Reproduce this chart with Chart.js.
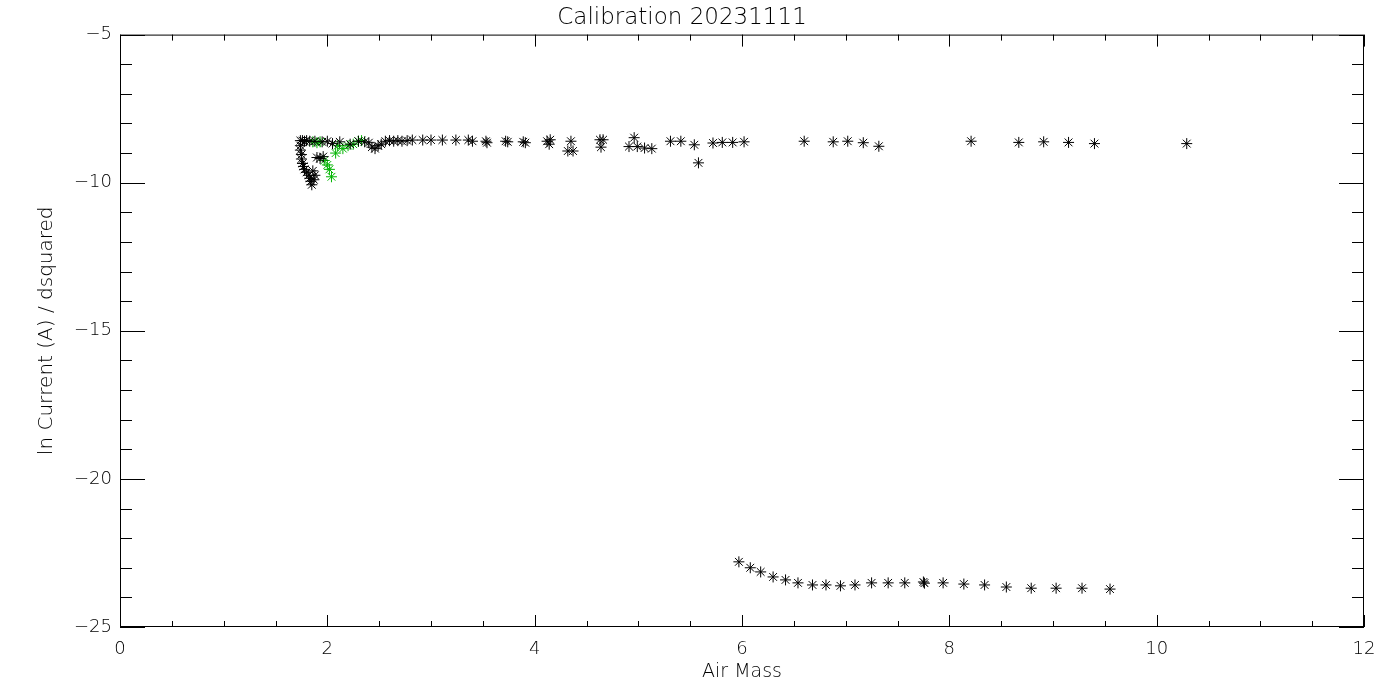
<!DOCTYPE html>
<html>
<head>
<meta charset="utf-8">
<title>Calibration 20231111</title>
<script src="https://cdn.jsdelivr.net/npm/chart.js@4.4.1/dist/chart.umd.min.js"></script>
<style>
    html, body { margin: 0; padding: 0; background: #fff; }
    #calib-chart { display: block; }
</style>
</head>
<body>
<canvas id="calib-chart" width="1400" height="700"></canvas>
<script>
const FONT = '"DejaVu Sans", "Liberation Sans", sans-serif';

// upper branch, black
const airMassBlack = [
    1.74, 1.76, 1.78, 1.80, 1.83, 1.74, 1.74, 1.75, 1.75, 1.76, 1.77, 1.78,
    1.80, 1.82, 1.83, 1.84, 1.85, 1.87, 1.88, 1.86, 1.90, 1.93, 1.96,
    1.88, 1.95, 2.00, 2.05, 2.12, 2.22, 2.30, 2.36, 2.40, 2.43, 2.46, 2.49,
    2.52, 2.56, 2.60, 2.64, 2.68, 2.72, 2.77, 2.82, 2.92, 3.00, 3.11, 3.24, 3.36,
    3.40, 3.53, 3.54, 3.72, 3.74, 3.89, 3.91, 4.12, 4.14, 4.15, 4.35, 4.32, 4.37,
    4.63, 4.66, 4.64, 4.96, 4.91, 4.99, 5.06, 5.13, 5.31, 5.41, 5.54, 5.58,
    5.72, 5.81, 5.91, 6.02, 6.60, 6.88, 7.02, 7.17, 7.32, 8.21, 8.67, 8.91,
    9.15, 9.40, 10.29
];
const lnCurrentBlack = [
    -8.58, -8.58, -8.60, -8.58, -8.60, -8.75, -8.90, -9.05, -9.20, -9.35, -9.45, -9.55,
    -9.65, -9.75, -9.85, -9.95, -10.07, -9.90, -9.75, -9.60, -9.15, -9.18, -9.12,
    -8.60, -8.62, -8.60, -8.68, -8.62, -8.70, -8.60, -8.62, -8.65, -8.80, -8.85, -8.75,
    -8.70, -8.60, -8.58, -8.60, -8.58, -8.60, -8.58, -8.56, -8.56, -8.56, -8.56, -8.56, -8.56,
    -8.60, -8.60, -8.65, -8.60, -8.62, -8.62, -8.65, -8.60, -8.70, -8.55, -8.60, -8.93, -8.93,
    -8.55, -8.55, -8.80, -8.48, -8.78, -8.78, -8.83, -8.85, -8.60, -8.60, -8.72, -9.33,
    -8.66, -8.64, -8.64, -8.62, -8.60, -8.62, -8.60, -8.65, -8.77, -8.60, -8.64, -8.62,
    -8.64, -8.68, -8.68
];

// lower branch, black
const airMassLow = [
    5.97, 6.08, 6.18, 6.30, 6.42, 6.54, 6.68, 6.81, 6.95, 7.09, 7.25, 7.41,
    7.57, 7.75, 7.76, 7.94, 8.14, 8.34, 8.55, 8.79, 9.03, 9.28, 9.55
];
const lnCurrentLow = [
    -22.80, -23.00, -23.14, -23.31, -23.41, -23.51, -23.58, -23.58, -23.61, -23.58, -23.51, -23.51,
    -23.51, -23.48, -23.52, -23.51, -23.55, -23.58, -23.65, -23.69, -23.69, -23.69, -23.72
];

// green series
const airMassGreen = [1.86, 1.90, 1.93, 1.97, 2.00, 2.02, 2.04, 2.08, 2.10, 2.15, 2.20, 2.25, 2.30, 2.33];
const lnCurrentGreen = [-8.62, -8.65, -8.62, -9.25, -9.40, -9.55, -9.80, -9.00, -8.75, -8.85, -8.75, -8.70, -8.60, -8.58];

const xTicks = [0, 2, 4, 6, 8, 10, 12];
const yTicks = [-25, -20, -15, -10, -5];

function toPoints(xs, ys) {
    return xs.map((x, i) => ({ x: x, y: ys[i] }));
}

function starSet(label, data, color) {
    return {
        label: label,
        data: data,
        showLine: false,
        pointStyle: 'star',
        pointRadius: 5.5,
        pointBorderWidth: 1,
        borderColor: color,
        backgroundColor: color,
    };
}

// IDL style frame: box plus inward ticks on all four sides
const framePlugin = {
    id: 'frame',
    afterDraw(chart) {
        const { ctx, chartArea: a, scales: { x, y } } = chart;
        ctx.save();
        ctx.strokeStyle = '#000';
        ctx.lineWidth = 1;
        ctx.strokeRect(a.left + 0.5, a.top + 0.5, a.right - a.left - 1, a.bottom - a.top - 1);
        ctx.beginPath();
        for (let v = 0; v <= 12; v += 0.5) {
            const px = Math.round(x.getPixelForValue(v)) + 0.5;
            const len = v % 2 === 0 ? 12 : 6;
            ctx.moveTo(px, a.bottom); ctx.lineTo(px, a.bottom - len);
            ctx.moveTo(px, a.top); ctx.lineTo(px, a.top + len);
        }
        for (let v = -25; v <= -5; v += 1) {
            const py = Math.round(y.getPixelForValue(v)) + 0.5;
            const len = v % 5 === 0 ? 25 : 12;
            ctx.moveTo(a.left, py); ctx.lineTo(a.left + len, py);
            ctx.moveTo(a.right, py); ctx.lineTo(a.right - len, py);
        }
        ctx.stroke();
        ctx.restore();
    }
};

const ctx = document.getElementById('calib-chart');
new Chart(ctx, {
    type: 'scatter',
    data: {
        datasets: [
            starSet('upper', toPoints(airMassBlack, lnCurrentBlack), '#000000'),
            starSet('lower', toPoints(airMassLow, lnCurrentLow), '#000000'),
            starSet('green', toPoints(airMassGreen, lnCurrentGreen), '#00b400'),
        ],
    },
    options: {
        responsive: false,
        animation: false,
        layout: { padding: { left: 0, right: 36, top: 0, bottom: 0 } },
        plugins: {
            legend: { display: false },
            tooltip: { enabled: false },
            title: {
                display: true,
                text: 'Calibration 20231111',
                color: '#000',
                font: { family: FONT, size: 23, weight: 200 },
                padding: { top: 4, bottom: 3 },
            },
        },
        scales: {
            x: {
                type: 'linear',
                min: 0,
                max: 12,
                afterBuildTicks: s => { s.ticks = xTicks.map(v => ({ value: v })); },
                afterFit: s => { s.height = 73; },
                grid: { display: false, drawTicks: false },
                border: { display: false },
                ticks: {
                    color: '#000',
                    padding: 12,
                    maxRotation: 0,
                    font: { family: FONT, size: 18, weight: 200 },
                    callback: v => String(v),
                },
                title: {
                    display: true,
                    text: 'Air Mass',
                    color: '#000',
                    font: { family: FONT, size: 19, weight: 200 },
                    padding: { top: 0, bottom: 17 },
                },
            },
            y: {
                type: 'linear',
                min: -25,
                max: -5,
                afterBuildTicks: s => { s.ticks = yTicks.map(v => ({ value: v })); },
                afterFit: s => { s.width = 120; },
                grid: { display: false, drawTicks: false },
                border: { display: false },
                ticks: {
                    color: '#000',
                    padding: 8,
                    font: { family: FONT, size: 18, weight: 200 },
                    callback: v => String(v).replace('-', '\u2212'),
                },
                title: {
                    display: true,
                    text: 'ln Current (A) / dsquared',
                    color: '#000',
                    font: { family: FONT, size: 20, weight: 200 },
                    padding: { top: 35, bottom: 0 },
                },
            },
        },
    },
    plugins: [framePlugin],
});
</script>
</body>
</html>
